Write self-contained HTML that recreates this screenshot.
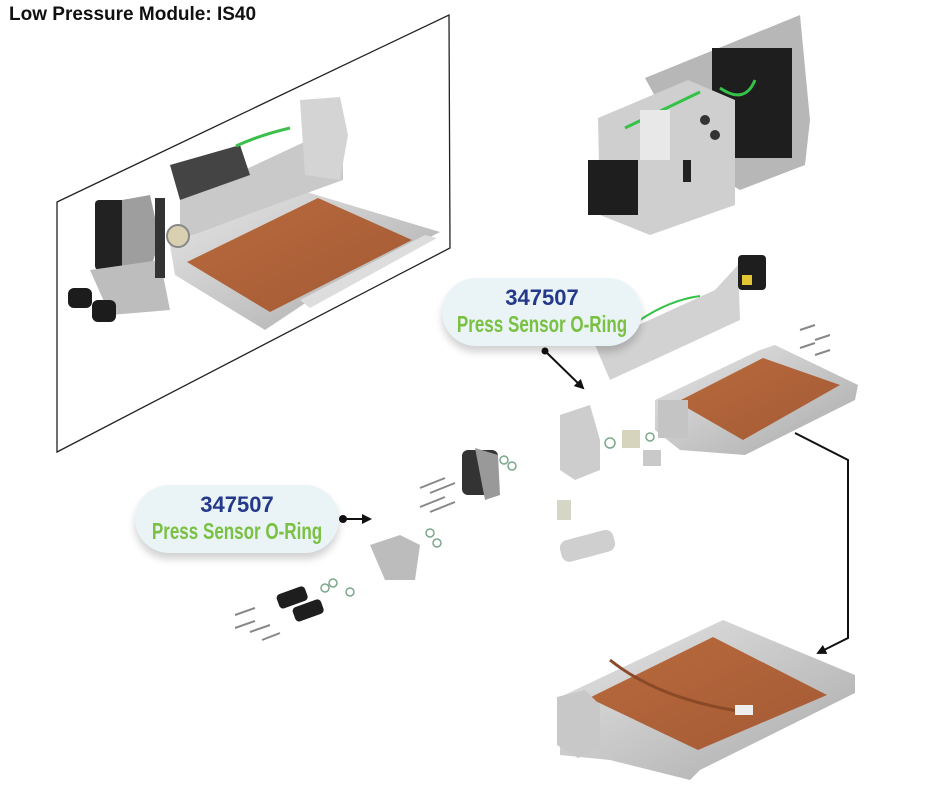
<!DOCTYPE html>
<html><head><style>
html,body{margin:0;padding:0;background:#fff;}
body{width:940px;height:788px;overflow:hidden;position:relative;font-family:"Liberation Sans",sans-serif;}
.t{position:absolute;left:9px;top:4px;font-weight:bold;font-size:19px;color:#111;}
.b{position:absolute;background:#eaf4f6;border-radius:36px;box-shadow:0 6px 8px rgba(0,0,0,0.18);text-align:center;white-space:nowrap;}
.n{font-weight:900;color:#24398a;font-size:22px;line-height:24px;margin-top:8px;}
.g{display:block;width:300px;margin-left:calc(50% - 150px);font-weight:bold;color:#7ac143;font-size:23px;line-height:28px;transform:scaleX(0.74);transform-origin:center;}
</style></head><body>
<div class="t">Low Pressure Module: IS40</div>
<svg width="940" height="788" style="position:absolute;left:0;top:0">
<defs>
<linearGradient id="st" x1="0" y1="0" x2="1" y2="1"><stop offset="0" stop-color="#e6e6e6"/><stop offset="1" stop-color="#a9a9a9"/></linearGradient>
<linearGradient id="cu" x1="0" y1="0" x2="1" y2="1"><stop offset="0" stop-color="#b96a3c"/><stop offset="1" stop-color="#a45a35"/></linearGradient>
<marker id="ah" markerUnits="userSpaceOnUse" markerWidth="10" markerHeight="10" refX="8" refY="5" orient="auto"><path d="M0,0 L10,5 L0,10 z" fill="#111"/></marker>
</defs>
<polygon points="57,202 449,15 450,248 57,452" fill="none" stroke="#222" stroke-width="1.3"/>
<polygon points="170,245 300,190 440,232 310,300 265,330 175,275" fill="url(#st)"/>
<polygon points="187,262 318,198 412,240 270,312" fill="url(#cu)"/>
<polygon points="300,300 425,235 437,238 310,308" fill="#ddd"/>
<polygon points="180,200 330,130 343,110 343,180 260,210 180,240" fill="#c9c9c9"/>
<polygon points="300,100 340,97 348,135 340,180 305,175" fill="#d4d4d4"/>
<polygon points="170,165 240,145 250,175 180,200" fill="#444"/>
<path d="M236,146 Q260,135 290,128" stroke="#3cbf4a" stroke-width="3" fill="none"/>
<rect x="95" y="200" width="30" height="70" rx="4" fill="#222"/>
<polygon points="122,200 150,195 160,240 145,285 122,275" fill="#9e9e9e"/>
<polygon points="90,270 160,260 170,310 110,315" fill="#bdbdbd"/>
<circle cx="178" cy="236" r="11" fill="#d8d0b0" stroke="#888" stroke-width="2"/>
<rect x="68" y="288" width="24" height="20" rx="6" fill="#1c1c1c"/>
<rect x="92" y="300" width="24" height="22" rx="6" fill="#1c1c1c"/>
<rect x="155" y="198" width="10" height="80" fill="#333"/>
<polygon points="645,78 800,15 810,120 805,165 740,190 690,160" fill="#b7b7b7"/>
<rect x="712" y="48" width="80" height="110" fill="#1e1e1e"/>
<polygon points="598,118 688,80 735,100 735,205 650,235 600,215" fill="#cfcfcf"/>
<path d="M625,128 L700,92" stroke="#35c248" stroke-width="3"/>
<path d="M720,88 Q745,105 755,80" stroke="#35c248" stroke-width="3" fill="none"/>
<rect x="640" y="110" width="30" height="50" fill="#e8e8e8"/>
<rect x="588" y="160" width="50" height="55" fill="#1e1e1e"/>
<circle cx="705" cy="120" r="5" fill="#333"/><circle cx="715" cy="135" r="5" fill="#333"/>
<rect x="683" y="160" width="8" height="22" fill="#222"/>
<polygon points="595,345 715,290 738,265 740,320 610,380" fill="#d2d2d2"/>
<path d="M640,320 Q670,300 700,296" stroke="#35c248" stroke-width="2" fill="none"/>
<rect x="738" y="255" width="28" height="35" rx="4" fill="#1e1e1e"/>
<rect x="742" y="275" width="10" height="10" fill="#e3c634"/>
<polygon points="560,415 590,405 600,440 600,470 575,480 560,470" fill="#cdcdcd"/>
<rect x="462" y="450" width="36" height="45" rx="6" fill="#333"/>
<polygon points="475,448 498,455 500,495 485,500" fill="#999"/>
<polygon points="370,545 400,535 420,545 415,580 385,580" fill="#bcbcbc"/>
<rect x="277" y="590" width="30" height="15" rx="4" fill="#1e1e1e" transform="rotate(-20 292 597)"/>
<rect x="293" y="603" width="30" height="15" rx="4" fill="#1e1e1e" transform="rotate(-20 308 610)"/>
<rect x="560" y="535" width="55" height="22" rx="8" fill="#cfcfcf" transform="rotate(-15 587 546)"/>
<rect x="557" y="500" width="14" height="20" fill="#d6d6c6"/>
<rect x="622" y="430" width="18" height="18" fill="#d6d4bc"/>
<rect x="643" y="450" width="18" height="16" fill="#c9c9c9"/>
<g stroke="#888" stroke-width="2">
<line x1="420" y1="488" x2="445" y2="478"/><line x1="420" y1="507" x2="445" y2="497"/><line x1="430" y1="493" x2="455" y2="483"/><line x1="430" y1="512" x2="455" y2="502"/>
<line x1="235" y1="615" x2="255" y2="608"/><line x1="235" y1="628" x2="255" y2="621"/><line x1="250" y1="632" x2="270" y2="625"/><line x1="262" y1="640" x2="280" y2="633"/>
<line x1="800" y1="330" x2="815" y2="325"/><line x1="815" y1="340" x2="830" y2="335"/><line x1="800" y1="348" x2="815" y2="343"/><line x1="815" y1="355" x2="830" y2="350"/>
</g>
<g fill="none" stroke="#7aa88a" stroke-width="1.5">
<circle cx="504" cy="460" r="4"/><circle cx="512" cy="466" r="4"/><circle cx="430" cy="533" r="4"/><circle cx="437" cy="543" r="4"/>
<circle cx="325" cy="588" r="4"/><circle cx="333" cy="583" r="4"/><circle cx="350" cy="592" r="4"/><circle cx="610" cy="443" r="5"/><circle cx="650" cy="437" r="4"/>
</g>
<polygon points="655,400 760,350 775,345 858,385 855,400 745,455 680,450 655,430" fill="url(#st)"/>
<polygon points="677,402 763,358 840,385 743,440" fill="url(#cu)"/>
<rect x="658" y="400" width="30" height="38" fill="#c4c4c4"/>
<polygon points="560,697 723,620 855,675 855,693 700,770 690,780 610,760 560,755" fill="url(#st)"/>
<polygon points="589,698 713,637 827,695 698,750" fill="url(#cu)"/>
<polygon points="557,697 585,690 600,705 600,748 578,758 557,745" fill="#c8c8c8"/>
<path d="M610,660 Q660,700 745,712" stroke="#8a4a28" stroke-width="3" fill="none"/>
<rect x="735" y="705" width="18" height="10" fill="#eee"/>
<circle cx="545" cy="351" r="3.5" fill="#111"/>
<line x1="545" y1="351" x2="583" y2="388" stroke="#111" stroke-width="2" marker-end="url(#ah)"/>
<circle cx="343" cy="519" r="4" fill="#111"/>
<line x1="343" y1="519" x2="370" y2="519" stroke="#111" stroke-width="2" marker-end="url(#ah)"/>
<polyline points="795,433 848,460 848,638 818,653" fill="none" stroke="#111" stroke-width="2" marker-end="url(#ah)"/>
</svg>
<div class="b" style="left:442px;top:278px;width:200px;height:68px;"><div class="n">347507</div><div class="g">Press Sensor O-Ring</div></div>
<div class="b" style="left:135px;top:485px;width:204px;height:68px;"><div class="n">347507</div><div class="g">Press Sensor O-Ring</div></div>
</body></html>
